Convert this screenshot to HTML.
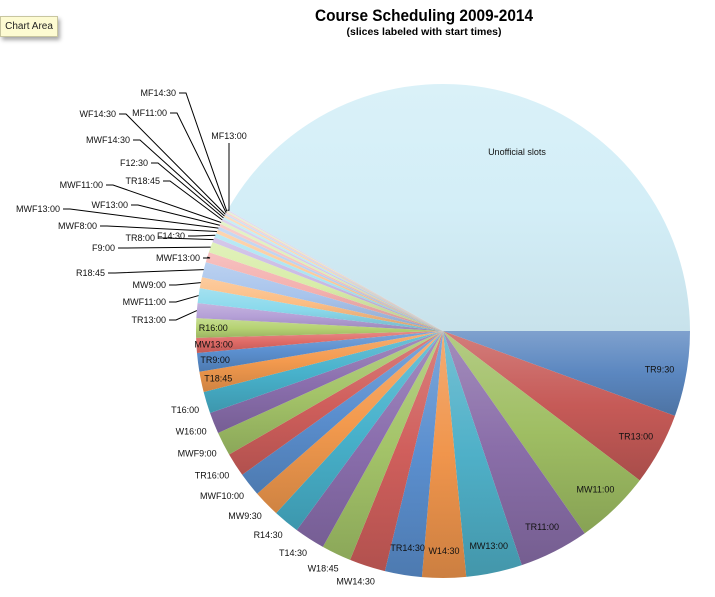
<!DOCTYPE html>
<html><head><meta charset="utf-8"><style>
body{margin:0;background:#fff;width:715px;height:597px;overflow:hidden;font-family:"Liberation Sans",sans-serif}
#tip{position:absolute;left:0;top:16px;width:56px;height:19px;background:#fdfbd2;border:1px solid #c8c6a0;box-shadow:2px 3px 4px rgba(0,0,0,.35);font-size:10px;line-height:19px;text-align:center;color:#222}
</style></head><body>
<div id="tip">Chart Area</div>
<svg id="chart" width="715" height="597" style="position:absolute;left:0;top:0">
<defs id="defs"></defs>
<text x="424" y="21" text-anchor="middle" font-weight="bold" font-size="17" textLength="218" lengthAdjust="spacingAndGlyphs">Course Scheduling 2009-2014</text>
<text x="424" y="35" text-anchor="middle" font-weight="bold" font-size="10" textLength="155" lengthAdjust="spacingAndGlyphs">(slices labeled with start times)</text>
<g id="slices"></g><g id="labels"></g>
</svg>
<script>
const categories=["TR9:30","TR13:00","MW11:00","TR11:00","MW13:00","W14:30","TR14:30","MW14:30","W18:45","T14:30","R14:30","MW9:30","MWF10:00","TR16:00","MWF9:00","W16:00","T16:00","T18:45","TR9:00","MW13:00","R16:00","TR13:00","MWF11:00","MW9:00","R18:45","MWF13:00","F9:00","TR8:00","F14:30","MWF8:00","MWF13:00","WF13:00","MWF11:00","TR18:45","F12:30","MWF14:30","WF14:30","MF11:00","MF14:30","MF13:00","Unofficial slots"];
const values=[20.1,17.1,17.8,16.4,13.2,10.3,8.7,8.5,7.0,7.2,6.2,6.3,5.6,5.6,5.6,5.0,5.1,4.8,4.4,3.5,4.6,3.5,3.5,2.6,3.6,2.4,2.5,1.2,1.0,0.9,0.8,0.7,0.7,0.6,0.5,0.5,0.4,0.4,0.3,0.3,150.6];
const colors=["#5b87c0","#c65a57","#9fbe63","#8a6ea9","#4fb0c8","#f0954c","#5b8fcf","#d05f5c","#a4c469","#8b6fae","#48b2cc","#f39a4e","#5b8fcf","#d05f5c","#a4c469","#8b6fae","#48b2cc","#f39a4e","#5b8fcf","#df6a66","#b6d373","#b49fd6","#8ad9ec","#fbbd84","#a8c4ec","#f4b0ae","#d8eda8","#c9b9e4","#a8e4f2","#fcc99a","#b8d0f0","#f5c0be","#dcf0b8","#d2c6ea","#b8eaf5","#fdd4ab","#c4d8f2","#f6caca","#e0f2c4","#d8cfee","#d3eef7"];
const cx=443,cy=331,r=247,total=values.reduce((a,b)=>a+b,0);
const inside=new Set([0,1,2,3,4,5,6,17,18,19,20,40]);
// leader-label positions for small slices (layout): [index, textEndX, y]
const leader=[[21,166,323],[22,166,305],[23,166,288],[24,105,276],[25,200,261],[26,115,251],[27,155,241],[28,185,239],[29,97,229],[30,60,212],[31,128,208],[32,103,188],[33,160,184],[34,148,166],[35,130,143],[36,116,117],[37,167,116],[38,176,96]];
const S=document.getElementById('slices'),L=document.getElementById('labels'),D=document.getElementById('defs'),NS='http://www.w3.org/2000/svg';
function pt(a,rr){return [cx+rr*Math.cos(a*Math.PI/180),cy+rr*Math.sin(a*Math.PI/180)];}
function shade(hex,f){const n=parseInt(hex.slice(1),16);let c=[n>>16,(n>>8)&255,n&255];c=c.map(v=>Math.round(f>0?v+(255-v)*f:v*(1+f)));return 'rgb('+c.join(',')+')';}
let acc=0;const mids=[];
values.forEach((v,i)=>{
  const a0=acc/total*360,a1=(acc+v)/total*360;acc+=v;mids.push((a0+a1)/2);
  const col=colors[i%colors.length];
  const g=document.createElementNS(NS,'linearGradient');g.setAttribute('id','g'+i);g.setAttribute('x1','0');g.setAttribute('y1','0');g.setAttribute('x2','0');g.setAttribute('y2','1');
  const big=i===40;
  [[0,shade(col,big?0.15:0.22)],[0.5,col],[1,shade(col,big?-0.05:-0.15)]].forEach(s=>{const st=document.createElementNS(NS,'stop');st.setAttribute('offset',s[0]);st.setAttribute('stop-color',s[1]);g.appendChild(st);});
  D.appendChild(g);
  const p0=pt(a0,r),p1=pt(a1,r);
  const p=document.createElementNS(NS,'path');
  p.setAttribute('d',`M${cx},${cy}L${p0[0]},${p0[1]}A${r},${r} 0 ${a1-a0>180?1:0} 1 ${p1[0]},${p1[1]}Z`);
  p.setAttribute('fill','url(#g'+i+')');
  
  
  S.appendChild(p);
});
function txt(x,y,s,anchor,i){const t=document.createElementNS(NS,'text');t.setAttribute('x',x);t.setAttribute('y',y);t.setAttribute('font-size','9');t.setAttribute('text-anchor',anchor);t.setAttribute('fill','#111');t.textContent=s;


L.appendChild(t);}
function line(pts){const l=document.createElementNS(NS,'polyline');l.setAttribute('points',pts.map(p=>p.join(',')).join(' '));l.setAttribute('fill','none');l.setAttribute('stroke','#000');l.setAttribute('stroke-width','1');


L.appendChild(l);}
const leadIdx=new Set(leader.map(d=>d[0]));
categories.forEach((c,i)=>{
  const m=mids[i];
  if(i===40){txt(517,155,c,'middle',i);return;}
  if(i===39){const e=pt(m,r);line([[229,143],[229,e[1]],e]);txt(229,139,c,'middle',i);return;}
  if(leadIdx.has(i)){const d=leader.find(x=>x[0]===i);const e=pt(m,r);line([[d[1]+3,d[2]-3],[d[1]+10,d[2]-3],e]);txt(d[1],d[2],c,'end',i);return;}
  if(inside.has(i)){const rr=(i>=17)?0.93*r:0.89*r;const p=pt(m,rr);txt(p[0],p[1]+3,c,'middle',i);return;}
  const p=pt(m,r+12);const anc=Math.cos(m*Math.PI/180)<-0.5?'end':'middle';txt(p[0]+(anc==='end'?4:-8),p[1]+7,c,anc,i);
});
</script>
</body></html>
